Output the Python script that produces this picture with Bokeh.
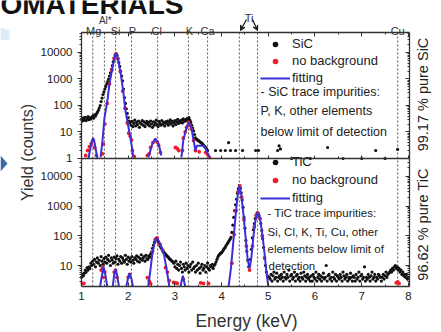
import math
from bokeh.plotting import figure
from bokeh.models import (Range1d, LogScale, LogAxis, LinearAxis, FixedTicker, Label,
                          Legend, LegendItem, Arrow, VeeHead, PrintfTickFormatter, PolyAnnotation)
from bokeh.embed import file_html
from bokeh.resources import INLINE

NAN = float("nan")
FONT = "Liberation Sans"

# ---------------- data ----------------
LINE_E = [1.24, 1.49, 1.73, 2.07, 2.63, 3.29, 3.70, 4.38, 4.77, 7.77]
ELEM_NAMES = ["Mg", "Si", "P", "Cl", "K", "Ca", "Cu"]
ELEM_LABEL_E = [1.26, 1.73, 2.09, 2.61, 3.31, 3.70, 7.77]
AL_NAME, AL_LABEL_E = "Al*", 1.51
TI_NAME, TI_LABEL_E = "Ti", 4.59

X_TICKS = [1, 2, 3, 4, 5, 6, 7, 8]
X_MINOR = [1.5, 2.5, 3.5, 4.5, 5.5, 6.5, 7.5]
TOP_TICKS = [1, 10, 100, 1000, 10000]
BOT_TICKS = [10, 100, 1000, 10000]

E_START = 1.00
E_STEP = 0.02

SIC_COUNTS = [30, 26, 34, 28, 36, 27, 31, 38, 29, 34, 31, 36, 40, 33, 44, 40, 48, 55,
              65, 80, 100, 140, 190, 260, 330, 420, 520, 650, 800, 1000, 1300, 1700, 2300, 3200, 4500, 6200, 8000,
              9000,
              7800, 5800, 4200, 3000, 2000, 1300, 850, 420, 200, 120, 75, 50, 35, 26,
              22, 18, 25, 16, 21, 28, 17, 23, 19, 26, 15, 22, 20, 27, 18, 24, 16, 21, 25,
              19, 23, 17, 26, 20, 15, 24, 18, 22, 28, 19, 16, 25, 21, 18, 27, 20, 23, 17, 24,
              21, 26, 18, 23, 29, 20, 25, 17, 22, 27, 19, 24, 30, 21, 26, 23, 28, 22, 31, 25, 29, 27,
              32, 30, 35, 28, 23, 18, 14, 11, 8, 6, 5.5, 5, 4.8, 4.5, 4.2, 4, 3.7, 3.4, 3.1, 2.8, 2.6, 2.3, 2]
SIC_SPARSE_E = [3.87, 3.98, 4.08, 4.15, 4.19, 4.30, 4.45, 4.73, 4.79, 5.20, 5.23, 5.26, 5.50, 5.90,
                6.27, 6.60, 7.00, 7.30, 7.50, 7.77]
SIC_SPARSE_V = [2, 2, 2, 4, 2, 2, 2, 2, 2, 2, 3, 2.3, 1, 1, 2.6, 1, 1, 2, 1, 2.2]
SIC_NB_E = [1.09, 1.13, 1.17, 1.21, 1.25, 1.28, 1.32,
            1.45, 1.47, 1.50, 1.55, 1.60, 1.65, 1.70, 1.74, 1.78, 1.83, 1.88, 1.93, 1.98, 2.01, 2.04, 2.07, 2.09, 2.13,
            2.41, 2.45, 2.48, 2.53, 2.58, 2.62, 2.65, 2.69,
            3.01, 3.05, 3.08,
            3.16, 3.18, 3.22, 3.25, 3.29, 3.32, 3.35, 3.40, 3.44,
            3.52, 3.66, 3.70, 3.74]
SIC_NB_V = [1.3, 2, 2.8, 3.7, 4.8, 2.6, 1.3,
            1.5, 3.5, 20, 120, 650, 2200, 6000, 8800, 5800, 1900, 350, 80, 22, 9, 7, 5, 2, 1.2,
            1.3, 1.5, 2.6, 4, 4.8, 4.2, 3.1, 1.7,
            2.6, 2.4, 2.0,
            2, 6, 10, 15, 23, 18, 13, 4.8, 2,
            1.8, 1.7, 1.4, 1.1]
SIC_FIT_E = [1.15, 1.19, 1.23, 1.25, 1.28, 1.31, 1.34, NAN,
             1.41, 1.45, 1.49, 1.56, 1.60, 1.66, 1.71, 1.73, 1.77, 1.84, 1.90, 1.94, 1.99, 2.05, 2.09, 2.11, NAN,
             2.43, 2.52, 2.58, 2.65, 2.71, NAN,
             3.14, 3.18, 3.25, 3.29, 3.35, 3.40, 3.44, 3.47, 3.62, 3.66, 3.70, 3.74]
SIC_FIT_V = [1, 2.5, 5, 6, 4, 2, 1, NAN,
             1.1, 4.8, 32, 180, 680, 2500, 7000, 9100, 7000, 1600, 280, 65, 21, 6, 2, 1.1, NAN,
             1.1, 3.7, 5.7, 3.7, 1.3, NAN,
             1.1, 4.8, 15, 23, 15, 4.8, 2.0, 3.0, 3.0, 2.3, 1.6, 1.1]

TIC_COUNTS = [4, 5, 4.5, 5.5, 7, 6, 8.5, 7, 9, 8, 12, 10, 14,
              11, 16, 9, 13, 18, 12, 15, 10, 20, 14, 11, 17, 13, 19, 12, 16, 22, 14, 10, 18,
              15, 12, 19, 13, 17, 21, 11, 16, 14, 20, 12, 18, 15, 13, 22, 16, 11, 19, 14, 17,
              13, 20, 15, 12, 18, 16, 21, 14, 19, 13, 17, 23, 15, 18, 20, 14, 22, 17, 16, 21, 19, 24,
              28, 38, 48, 60, 72, 82, 78, 64, 55, 46, 40, 36, 31, 28, 26, 24, 22, 20, 19, 17, 16, 15, 14, 13,
              12, 9, 14, 8, 11, 7, 10, 13, 8, 6, 11, 9, 7, 12, 8, 10, 6, 9, 11, 7, 13, 8,
              9, 6, 10, 7, 12, 8, 5.5, 9, 11, 7, 8, 10, 6, 9, 12, 8, 7, 10, 9, 11, 8, 10,
              11, 13, 16, 19, 22, 24, 26, 27, 30, 34, 38, 42, 48, 54, 60, 68, 76, 88, 130, 230, 420, 700, 1100, 1700, 2700, 3900,
              4900, 4000, 2800, 1600, 900, 420, 180, 70, 30, 15, 9, 10, 16, 35, 85, 160, 260, 380, 500, 590, 570, 480, 380, 260, 150, 80, 40, 18, 10, 6, 4.5, 4,
              4, 3.5, 5, 3, 4.5, 6, 3.5, 4, 5.5, 3, 4, 4.5, 3.5, 5, 4,
              3, 6, 4, 3.5, 5, 4, 7, 3, 4.5, 5, 3.5, 4, 6, 3, 4.5,
              5, 3.5, 4, 3, 5.5, 4, 3.5, 6, 4.5, 3, 4, 5, 3.5, 4, 3,
              4.5, 3, 5, 4, 3.5, 6, 3, 4, 5, 3.5, 4.5, 3, 4, 5.5, 3.5,
              4, 10, 3, 4.5, 5, 3.5, 4, 3, 6, 4, 3.5, 5, 3, 4.5, 4,
              3.5, 5, 4, 3, 6, 4.5, 3.5, 4, 5, 3, 4, 3.5, 5.5, 4, 3,
              4.5, 4, 3, 5, 3.5, 4, 6, 3, 4.5, 5, 3.5, 4, 9, 3, 4,
              3.5, 5, 4, 3, 4.5, 6, 3.5, 4, 5, 3, 4, 3.5, 5, 4.5, 4,
              3, 4, 5, 3.5, 4.5, 6, 4, 5, 5.5, 6, 7, 6, 8, 7, 9,
              10, 8, 9, 7, 8, 6, 7, 5, 6, 4.5, 5, 4, 5, 3.5, 4]
TIC_NB_E = [1.02, 1.05, 1.42, 1.45, 1.47, 1.50, 1.70, 1.73, 1.76, 2.00, 2.03,
            2.41, 2.45, 2.48, 2.52, 2.58, 2.62, 2.68, 2.74, 2.80, 2.84, 2.88,
            2.97, 3.02, 3.05, 3.18, 3.55, 3.61, 3.72,
            4.22, 4.27, 4.31, 4.35, 4.39, 4.43, 4.48, 4.53, 4.60,
            4.66, 4.70, 4.74, 4.78, 4.82, 4.87, 4.92, 7.74, 7.77, 7.80]
TIC_NB_V = [2.5, 2.5, 7, 8.5, 4, 6, 6, 7, 4, 4, 5,
            3.9, 3, 2.5, 30, 75, 85, 52, 33, 8.5, 6, 3.1,
            2.7, 2.6, 2.5, 3.5, 2.6, 2.5, 2.5,
            12, 110, 700, 3000, 4800, 2000, 350, 45, 7,
            45, 200, 480, 580, 380, 100, 18, 2.6, 2.8, 2.5]
TIC_FIT_E = [1.40, 1.44, 1.47, 1.51, 1.55, NAN,
             1.67, 1.70, 1.73, 1.76, 1.80, NAN,
             1.96, 2.00, 2.03, 2.07, 2.10, NAN,
             2.43, 2.47, 2.51, 2.55, 2.58, 2.61, 2.64, 2.68, 2.72, 2.76, 2.80, 2.84, 2.88, NAN,
             3.12, 3.17, 3.22, NAN,
             4.15, 4.20, 4.25, 4.30, 4.34, 4.38, 4.42, 4.47, 4.52, 4.56, 4.60, 4.64, 4.68, 4.72,
             4.77, 4.82, 4.87, 4.92, 4.96, 5.00]
TIC_FIT_V = [2, 5, 9, 5, 2, NAN,
             2, 5, 7.5, 5, 2, NAN,
             2, 4, 5.5, 3.5, 2, NAN,
             2, 6, 20, 45, 70, 87, 75, 52, 38, 26, 12, 5, 2, NAN,
             2, 4.5, 2, NAN,
             2, 8, 60, 500, 2000, 4900, 2500, 500, 70, 15, 8, 20, 90, 300,
             600, 420, 120, 25, 6, 2]

# ---------------- layout (canvas = frame) ----------------
W, H = 441, 332
X_LO_VIEW, X_HI_VIEW = -0.7345, 8.7088          # canvas edges in keV
TOP_VIEW = (10 ** -6.566, 10 ** 5.962)           # canvas edges in SiC counts
BOT_VIEW = (10 ** -1.256, 10 ** 9.923)           # canvas edges in TiC counts
PX_LO, PX_HI = 1.0, 8.02                         # panel edges in keV
TOP_PANEL = (1.0, 10 ** 4.755)
BOT_PANEL = (10 ** 0.293, 10 ** 4.603)
TOP_PANEL_FULL_LO = 10 ** -4.83                  # bottom of lower panel on SiC scale

p = figure(width=W, height=H, output_backend="svg", toolbar_location=None,
           x_range=Range1d(X_LO_VIEW, X_HI_VIEW), y_range=Range1d(*TOP_VIEW),
           y_axis_type="log", x_axis_location=None, y_axis_location=None,
           min_border=0, min_border_left=0, min_border_right=0, min_border_top=0, min_border_bottom=0)
p.extra_y_ranges = {"bot": Range1d(*BOT_VIEW)}
p.extra_y_scales = {"bot": LogScale()}
p.grid.grid_line_color = None
p.outline_line_color = None
p.background_fill_color = "white"
p.border_fill_color = "white"

AX_COL = "#333333"


def style_axis(ax, labels):
    ax.axis_line_color = AX_COL
    ax.axis_line_width = 1.3
    ax.major_tick_line_color = AX_COL
    ax.minor_tick_line_color = AX_COL
    if labels:
        ax.major_label_text_font = FONT
        ax.major_label_text_font_size = "11.5px"
        ax.major_label_text_color = "#222222"
    else:
        ax.major_label_text_color = None


def log_minor(vmin, vmax):
    return [m * 10 ** k for k in range(0, 5) for m in range(2, 10) if vmin <= m * 10 ** k <= vmax]


top_minor = log_minor(1, TOP_PANEL[1])
bot_minor = log_minor(3, 40000)

for side, loc, lab in [("left", PX_LO, True), ("right", PX_HI, False)]:
    tin, tout = (0, 4) if side == "left" else (4, 0)
    mtin, mtout = (0, 2) if side == "left" else (2, 0)
    ax = LogAxis(fixed_location=loc, bounds=TOP_PANEL,
                 ticker=FixedTicker(ticks=TOP_TICKS, minor_ticks=top_minor),
                 formatter=PrintfTickFormatter(format="%d"),
                 major_tick_in=tin, major_tick_out=tout, minor_tick_in=mtin, minor_tick_out=mtout,
                 major_label_standoff=5)
    style_axis(ax, lab)
    p.add_layout(ax, side)
    ax = LogAxis(y_range_name="bot", fixed_location=loc, bounds=BOT_PANEL,
                 ticker=FixedTicker(ticks=BOT_TICKS, minor_ticks=bot_minor),
                 formatter=PrintfTickFormatter(format="%d"),
                 major_tick_in=tin, major_tick_out=tout, minor_tick_in=mtin, minor_tick_out=mtout,
                 major_label_standoff=5)
    style_axis(ax, lab)
    p.add_layout(ax, side)

ax = LinearAxis(fixed_location=TOP_PANEL[1], bounds=(PX_LO, PX_HI),
                ticker=FixedTicker(ticks=X_TICKS, minor_ticks=X_MINOR),
                major_tick_in=4, major_tick_out=0, minor_tick_in=2, minor_tick_out=0)
style_axis(ax, False)
p.add_layout(ax, "above")
ax = LinearAxis(fixed_location=TOP_PANEL[0], bounds=(PX_LO, PX_HI),
                ticker=FixedTicker(ticks=X_TICKS, minor_ticks=X_MINOR),
                major_tick_in=3, major_tick_out=0, minor_tick_in=2, minor_tick_out=0)
style_axis(ax, False)
p.add_layout(ax, "below")
ax = LinearAxis(y_range_name="bot", fixed_location=BOT_PANEL[0], bounds=(PX_LO, PX_HI),
                ticker=FixedTicker(ticks=X_TICKS, minor_ticks=X_MINOR),
                major_tick_in=4, major_tick_out=0, minor_tick_in=2, minor_tick_out=0,
                major_label_standoff=6)
style_axis(ax, True)
p.add_layout(ax, "below")

# dashed element lines through both panels
p.segment(x0=LINE_E, y0=[TOP_PANEL_FULL_LO] * len(LINE_E), x1=LINE_E, y1=[TOP_PANEL[1]] * len(LINE_E),
          line_color="#555555", line_dash="2 2", line_width=1)

sic_e = [round(E_START + E_STEP * i, 2) for i in range(len(SIC_COUNTS))]
tic_e = [round(E_START + E_STEP * i, 2) for i in range(len(TIC_COUNTS))]

BLACK, RED, BLUE = "#111111", "#f01e28", "#3b30d8"

r_sic = p.scatter(sic_e, SIC_COUNTS, size=3.2, color=BLACK, line_color=None)
p.scatter(SIC_SPARSE_E, SIC_SPARSE_V, size=3.2, color=BLACK, line_color=None)
r_sic_nb = p.scatter(SIC_NB_E, SIC_NB_V, size=3.8, color=RED, line_color=None)
r_sic_fit = p.line(SIC_FIT_E, SIC_FIT_V, line_color=BLUE, line_width=2)

r_tic = p.scatter(tic_e, TIC_COUNTS, size=3.2, color=BLACK, line_color=None, y_range_name="bot")
r_tic_nb = p.scatter(TIC_NB_E, TIC_NB_V, size=3.8, color=RED, line_color=None, y_range_name="bot")
r_tic_fit = p.line(TIC_FIT_E, TIC_FIT_V, line_color=BLUE, line_width=2, y_range_name="bot")


def make_legend(items, loc, spacing):
    leg = Legend(items=[LegendItem(label=l, renderers=[r]) for l, r in items], location=loc,
                 glyph_width=30, glyph_height=14, label_height=14, label_standoff=2, spacing=spacing,
                 padding=0, margin=0, border_line_color=None, background_fill_alpha=0,
                 label_text_font=FONT, label_text_font_size="13px", label_text_color="#222222")
    p.add_layout(leg)


make_legend([("SiC", r_sic), ("no background", r_sic_nb), ("fitting", r_sic_fit)], (260, 247), 2)
make_legend([("TiC", r_tic), ("no background", r_tic_nb), ("fitting", r_tic_fit)], (260, 127), 3)


def label(text, x, y, size, **kw):
    opts = dict(x_units="screen", y_units="screen", text_font=FONT, text_font_size=size,
                text_color="#222222", text_baseline="middle")
    opts.update(kw)
    p.add_layout(Label(x=x, y=y, text=text, **opts))


label("- SiC trace impurities:", 260, 241, "12.5px")
label("P, K, other elements", 260, 222, "12.5px")
label("below limit of detection", 260, 201, "12.5px")
label("- TiC trace impurities:", 267, 120, "11.5px")
label("Si, Cl, K, Ti, Cu, other", 267, 101, "11.5px")
label("elements below limit of", 267, 84, "11.5px")
label("detection", 268, 67, "11.5px")

label("99.17 % pure SiC", 422, 238, "14.5px", angle=math.pi / 2, text_align="center")
label("96.62 % pure TiC", 422, 108, "14.5px", angle=math.pi / 2, text_align="center")
label("Yield (counts)", 27, 180, "16px", angle=math.pi / 2, text_align="center", text_color="#333333")
label("Energy (keV)", 246, 12, "17.5px", text_align="center", text_color="#333333")
label("OMATERIALS", 183, 332, "28px", text_align="right", text_baseline="bottom",
      text_font_style="bold", text_color="#111111", y_offset=-19)

for name, e in zip(ELEM_NAMES, ELEM_LABEL_E):
    p.add_layout(Label(x=e, y=302, x_units="data", y_units="screen", text=name, text_font=FONT,
                       text_font_size="11px", text_color="#333333", text_align="center",
                       text_baseline="alphabetic"))
p.add_layout(Label(x=AL_LABEL_E, y=312, x_units="data", y_units="screen", text=AL_NAME, text_font=FONT,
                   text_font_size="10px", text_color="#333333", text_align="center", text_baseline="alphabetic"))
p.add_layout(Label(x=TI_LABEL_E, y=315, x_units="data", y_units="screen", text=TI_NAME, text_font=FONT,
                   text_font_size="11px", text_color="#333333", text_align="center", text_baseline="alphabetic"))
for xs, xe in [(246, 240), (252, 257)]:
    p.add_layout(Arrow(x_start=xs, y_start=313, x_end=xe, y_end=302, start_units="screen", end_units="screen",
                       line_color="#111111", line_width=1.2,
                       end=VeeHead(size=5, fill_color="#111111", line_color="#111111")))

# slide decorations at the left edge
p.add_layout(PolyAnnotation(xs=[0, 7, 0], ys=[177, 169, 161], xs_units="screen", ys_units="screen",
                            fill_color="#3a6aa8", fill_alpha=1, line_color=None))
p.add_layout(PolyAnnotation(xs=[0, 9, 9, 0], ys=[305, 302, 293, 292], xs_units="screen", ys_units="screen",
                            fill_color="#d6e6f4", fill_alpha=0.8, line_color=None))

open("out.html", "w").write(file_html(p, INLINE))
